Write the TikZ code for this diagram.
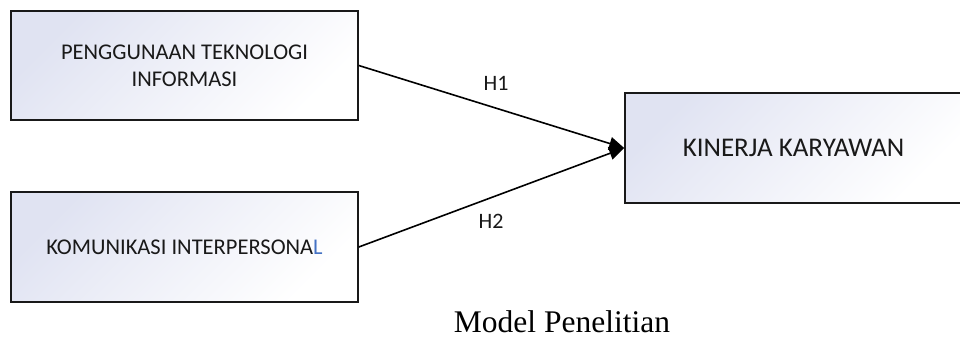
\documentclass[tikz,border=0pt]{standalone}
\usepackage{fontspec}
\setmainfont{Carlito}
\newfontfamily\capfont{Liberation Serif}
\usetikzlibrary{arrows.meta}
\definecolor{lav}{RGB}{224,227,242}
\definecolor{boxline}{RGB}{25,25,25}
\definecolor{lblue}{RGB}{68,114,196}
\tikzset{
  varbox/.style={draw=boxline, line width=1.6pt, top color=lav, bottom color=white, shading angle=45,
    inner sep=0pt, align=center, font=\fontsize{22.5}{27}\selectfont, text=black!90},
  hyp/.style={draw=black, line width=1.6pt, -{Triangle[length=15pt,width=13pt]}},
  hlabel/.style={font=\fontsize{22}{25}\selectfont, text=black!90}
}
\begin{document}
\begin{tikzpicture}[x=1pt,y=-1pt]
\useasboundingbox (0,0) rectangle (960,338);
\node[varbox, minimum width=347pt, minimum height=109pt] (a) at (184.5,65.5) {PENGGUNAAN TEKNOLOGI\\INFORMASI};
\node[varbox, minimum width=347pt, minimum height=110pt] (b) at (184.5,247) {KOMUNIKASI INTERPERSONA\textcolor{lblue}{L}};
\node[varbox, minimum width=337pt, minimum height=110pt, font=\fontsize{27}{30}\selectfont] (c) at (793.5,148) {KINERJA KARYAWAN};
\draw[hyp] (a.east) -- (c.west);
\draw[hyp] (b.east) -- (c.west);
\node[hlabel] (h1) at (496,83) {H1};
\node[hlabel] (h2) at (491,221) {H2};
\node[anchor=base, font=\capfont\fontsize{31.5}{36}\selectfont] (cap) at (562,332) {Model Penelitian};
\end{tikzpicture}
\end{document}
